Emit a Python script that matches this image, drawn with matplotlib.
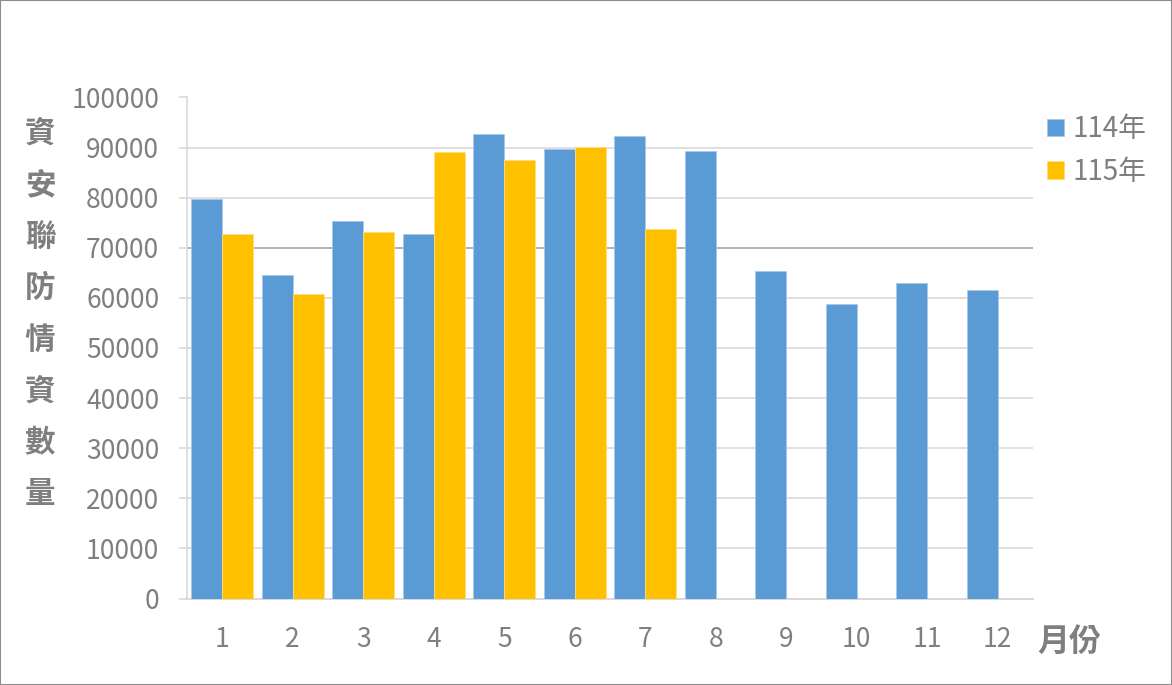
import matplotlib
matplotlib.use('Agg')
import matplotlib.pyplot as plt
from matplotlib.patches import Rectangle
import numpy as np

months = ['1', '2', '3', '4', '5', '6', '7', '8', '9', '10', '11', '12']
y114 = [79700, 64600, 75300, 72800, 92700, 89800, 92300, 89400, 65300, 58700, 62900, 61600]
y115 = [72800, 60800, 73200, 89200, 87500, 90100, 73700]
series_names = ['114年', '115年']
yticks = list(range(0, 100001, 10000))

blue = '#5B9BD5'
gold = '#FFC000'
txt = '#7F7F7F'
grid = '#D9D9D9'

plt.rcParams['font.family'] = ['Noto Sans CJK TC', 'DejaVu Sans']

fig = plt.figure(figsize=(11.72, 6.85), dpi=100)
ax = fig.add_axes([187/1172, 1-598.5/685, (1033-187)/1172, (598.5-97.5)/685])

w = 0.44
x = np.arange(len(months))
ax.bar(x - w/2, y114, width=w, color=blue, edgecolor='#A9C8EA', linewidth=0.6, label=series_names[0], zorder=3)
ax.bar(x[:len(y115)] + w/2, y115, width=w, color=gold, edgecolor='#FFDD80', linewidth=0.6, label=series_names[1], zorder=3)

ax.set_xlim(-0.5, len(months) - 0.5)
ax.set_ylim(0, 100000)
ax.set_yticks(yticks)
ax.set_yticklabels([str(v) for v in yticks])
ax.set_xticks(x)
ax.set_xticklabels(months)

for v in yticks[1:]:
    c = '#A6A6A6' if v == 70000 else grid
    ax.axhline(v, color=c, linewidth=1.2, zorder=1)

for s in ['top', 'right']:
    ax.spines[s].set_visible(False)
ax.spines['left'].set_color(grid)
ax.spines['bottom'].set_color(grid)
ax.spines['left'].set_linewidth(1.2)
ax.spines['bottom'].set_linewidth(1.5)

ax.tick_params(axis='y', length=6, color=grid, width=1.2, pad=14, labelsize=19, labelcolor=txt)
ax.tick_params(axis='x', length=0, pad=20, labelsize=19, labelcolor=txt)

fig.text(40/1172, 1-314/685, '\n'.join('資安聯防情資數量'), ha='center', va='center',
         fontsize=22, fontweight='bold', color=txt, linespacing=1.78)
fig.text(1069/1172, 1-642/685, '月份', ha='center', va='center',
         fontsize=23, fontweight='bold', color=txt)

ax.legend(loc='upper left', bbox_to_anchor=(1036/1172, 1-103/685), bbox_transform=fig.transFigure,
          frameon=False, fontsize=20, labelcolor=txt, handlelength=0.6, handleheight=0.6,
          handletextpad=0.33, labelspacing=0.45, borderaxespad=0)

fig.patches.append(Rectangle((0, 0), 1, 1, transform=fig.transFigure, fill=False,
                             edgecolor='#8C8C8C', linewidth=1.5))

fig.savefig('out.png', dpi=100)
